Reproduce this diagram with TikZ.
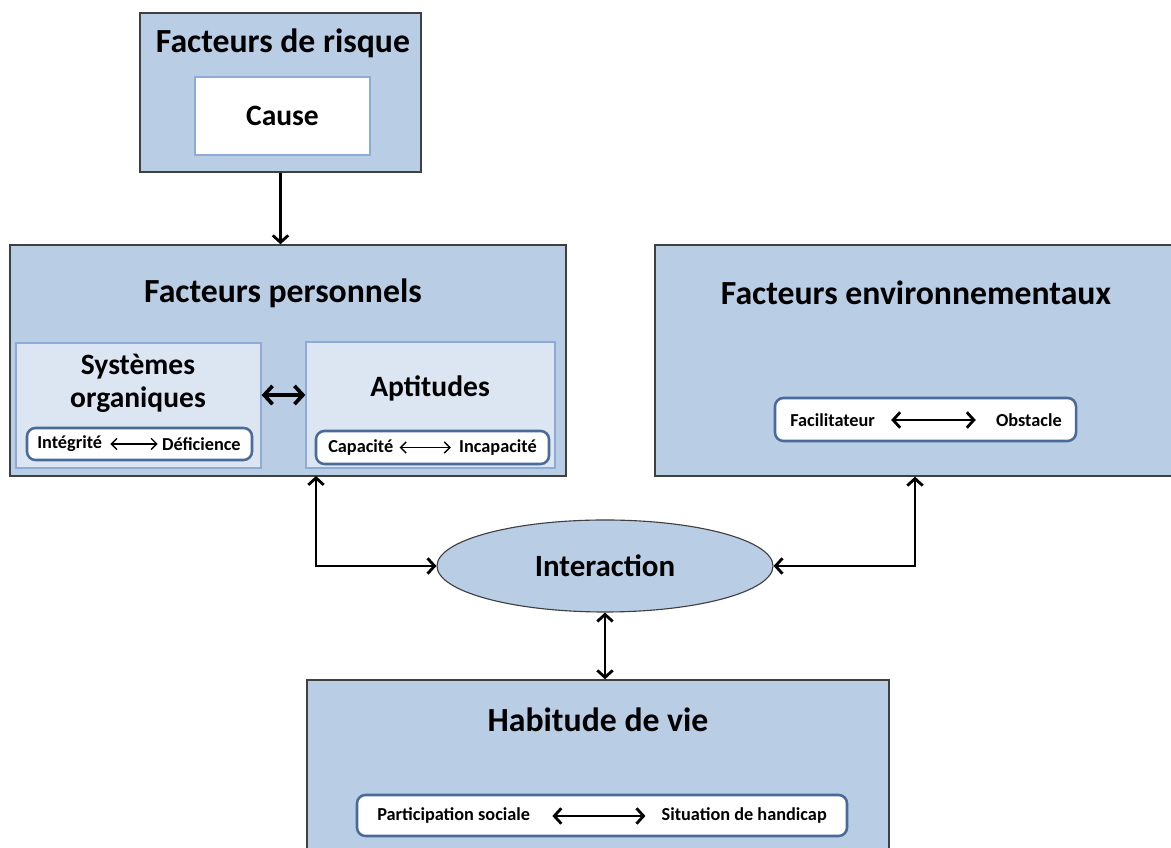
\documentclass[tikz,border=0pt]{standalone}
\usepackage{fontspec}
\setmainfont{Carlito}
\usetikzlibrary{arrows.meta, shapes.geometric, positioning}
\definecolor{boxblue}{HTML}{B9CDE5}
\definecolor{paleblue}{HTML}{DCE6F2}
\definecolor{edgeblue}{HTML}{8EAAD6}
\definecolor{pillblue}{HTML}{4A6A9A}

\begin{document}
\begin{tikzpicture}[
    bigbox/.style={draw=black!75, line width=1pt, fill=boxblue, inner sep=0pt},
    subbox/.style={draw=edgeblue, line width=0.9pt, fill=paleblue, inner sep=0pt},
    causebox/.style={draw=edgeblue, line width=0.9pt, fill=white},
    pill/.style={draw=pillblue, line width=1.8pt, fill=white, rounded corners=6pt, inner sep=0pt},
    bigtitle/.style={font=\bfseries\fontsize{24}{28}\selectfont},
    midtitle/.style={font=\bfseries\fontsize{21}{23.5}\selectfont},
    small/.style={font=\bfseries\fontsize{13}{15}\selectfont, inner sep=0pt},
    conn/.style={line width=2pt, >={Straight Barb[length=5pt,width=11pt]}, <->},
    thickconn/.style={line width=2.6pt, >={Straight Barb[length=6pt,width=13pt]}, <->},
    thinconn/.style={line width=1pt, >={Straight Barb[length=4pt,width=8pt]}, <->}
]
    \fill[white] (0,0) rectangle (29.275,21.2);
    \useasboundingbox (0,0) rectangle (29.275,21.2);

    % risk factors
    \node[bigbox, minimum width=7.025cm, minimum height=3.975cm] (risk) at (7.0125,18.8875) {};
    \node[bigtitle] (risktitle) at (7.075,20.125) {Facteurs de risque};
    \node[causebox, minimum width=4.375cm, minimum height=1.95cm, midtitle] (cause) at (7.0625,18.3) {Cause};

    % personal factors
    \node[bigbox, minimum width=13.9cm, minimum height=5.775cm] (pers) at (7.2,12.1875) {};
    \node[bigtitle] (perstitle) at (7.075,13.875) {Facteurs personnels};
    \node[subbox, minimum width=6.125cm, minimum height=3.125cm] (sys) at (3.4625,11.0625) {};
    \node[midtitle, align=center] (systitle) at (3.45,11.6125) {Systèmes\\organiques};
    \node[pill, minimum width=5.625cm, minimum height=0.8cm] (integ) at (3.4875,10.1) {};
    \node[small, anchor=west] (intg) at (0.925,10.1) {Intégrité};
    \node[small, anchor=east] (defi) at (6.025,10.1) {Déficience};
    \draw[thinconn, shorten <=0.2cm, shorten >=0.1cm] (intg) -- (defi);

    \node[subbox, minimum width=6.225cm, minimum height=3.15cm] (apt) at (10.7625,11.075) {};
    \node[midtitle] (apttitle) at (10.75,11.5) {Aptitudes};
    \node[pill, minimum width=5.825cm, minimum height=0.825cm] (capab) at (10.8125,10.0125) {};
    \node[small, anchor=west] (capa) at (8.2,10.0125) {Capacité};
    \node[small, anchor=east] (inca) at (13.425,10.0125) {Incapacité};
    \draw[thinconn, shorten <=0.15cm, shorten >=0.2cm] (capa) -- (inca);

    % environmental factors
    \node[bigbox, minimum width=13cm, minimum height=5.775cm] (env) at (22.875,12.1875) {};
    \node[bigtitle] (envtitle) at (22.9,13.875) {Facteurs environnementaux};
    \node[pill, minimum width=7.525cm, minimum height=1.075cm] (facob) at (23.1375,10.7125) {};
    \node[small, anchor=west] (faci) at (19.75,10.7) {Facilitateur};
    \node[small, anchor=east] (obst) at (26.55,10.7) {Obstacle};
    \draw[conn, shorten <=0.4cm, shorten >=0.5cm] (faci) -- (obst);

    % interaction
    \node[ellipse, draw=black!75, line width=0.8pt, fill=boxblue, minimum width=8.4cm, minimum height=2.3cm, font=\bfseries\fontsize{22}{26}\selectfont] (inter) at (15.125,7.05) {Interaction};

    % life habits
    \node[bigbox, minimum width=14.55cm, minimum height=4.5cm] (hab) at (14.95,1.95) {};
    \node[bigtitle] (habtitle) at (14.95,3.2) {Habitude de vie};
    \node[pill, minimum width=12.25cm, minimum height=1.025cm] (partsit) at (15.05,0.8125) {};
    \node[small, anchor=west] (part) at (9.425,0.8) {Participation sociale};
    \node[small, anchor=east] (situ) at (20.675,0.8) {Situation de handicap};
    \draw[conn, shorten <=0.55cm, shorten >=0.4cm] (part) -- (situ);

    % connectors
    \draw[conn, -> ] (risk.south) -- (risk.south |- pers.north);
    \draw[thickconn] ([yshift=0.26cm]sys.east) -- ([yshift=0.25cm]apt.west);
    \coordinate (persfoot) at (7.9,9.3);
    \draw[conn] (persfoot) |- (inter.west);
    \draw[conn] (inter.east) -| (env.south);
    \draw[conn] (inter.south) -- (inter.south |- hab.north);
\end{tikzpicture}
\end{document}
